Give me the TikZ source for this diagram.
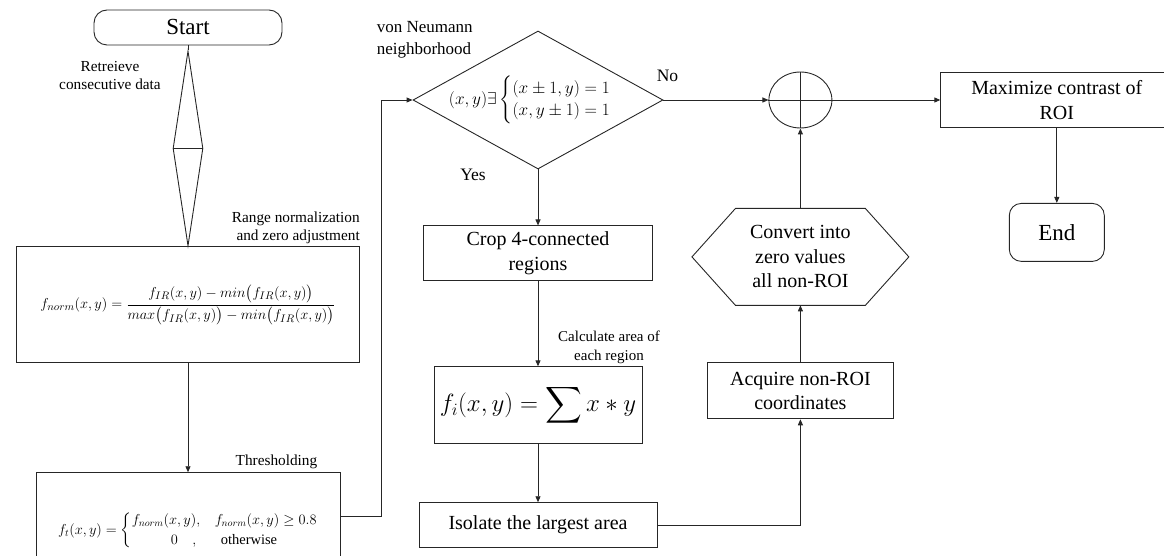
\documentclass[tikz,border=0pt]{standalone}
\usepackage{amsmath,amssymb}
\usepackage{fontspec}
\setmainfont{Liberation Serif}
\usetikzlibrary{arrows.meta,positioning,shapes.geometric,calc}

\begin{document}
\begin{tikzpicture}[
  x=1pt, y=1pt,
  wire/.style={draw=black!85, line width=0.9pt},
  arrow/.style={wire, -{Triangle[length=6pt,width=5pt]}},
  terminal/.style={wire, rounded corners=13pt, inner sep=0pt, font=\fontsize{23}{26}\selectfont},
  process/.style={wire, rectangle, inner sep=0pt, align=center, font=\fontsize{20}{24.5}\selectfont},
  choice/.style={wire, diamond, aspect=1.8, inner sep=-12pt, minimum width=250pt, minimum height=138pt, font=\fontsize{16}{19}\selectfont},
  note/.style={inner sep=0pt, align=center, font=\fontsize{15.3}{18}\selectfont},
]
  \useasboundingbox (0,0) rectangle (1164,-556);

  % Left column
  \node[terminal, minimum width=188pt, minimum height=35pt] (start) at (188,-27.5) {Start};
  \node[wire, diamond, inner sep=0pt, minimum width=30pt, minimum height=195pt, below=5pt of start] (sort) {};
  \draw[wire] (sort.west) -- (sort.east);
  \node[process, minimum width=343pt, minimum height=116pt, below=0pt of sort, font=\fontsize{15}{18}\selectfont] (fnorm)
    {$f_{norm}(x,y) = \dfrac{f_{IR}(x,y) - min\bigl(f_{IR}(x,y)\bigr)}{max\bigl(f_{IR}(x,y)\bigr) - min\bigl(f_{IR}(x,y)\bigr)}$};
  \node[process, minimum width=304pt, minimum height=116pt, below=109pt of fnorm, font=\fontsize{14.5}{17}\selectfont] (thresh)
    {$f_t(x,y) = \left\{\begin{array}{@{}r@{\quad}l@{}} f_{norm}(x,y), & f_{norm}(x,y) \geq 0.8\\[3pt] 0\quad ,\; & \hspace{6pt}\text{otherwise}\end{array}\right.$};

  % Middle column
  \node[choice] (nbhd) at (538,-100)
    {$(x,y)\exists\begin{cases}(x\pm 1,y) = 1\\(x,y\pm 1) = 1\end{cases}$};
  \node[process, minimum width=229pt, minimum height=55pt, below=56pt of nbhd] (crop) {Crop 4-connected\\regions};
  \node[process, minimum width=208pt, minimum height=77pt, below=85pt of crop, font=\fontsize{25.5}{28}\selectfont] (area)
    {$\displaystyle f_i(x,y) = \sum x * y$};
  \node[process, minimum width=238pt, minimum height=45pt, below=58pt of area] (isolate) {Isolate the largest area};

  % Right column
  \node[wire, ellipse, inner sep=0pt, minimum width=63pt, minimum height=56pt, right=105pt of nbhd] (plus) {};
  \draw[wire] (plus.north) -- (plus.south);
  \draw[wire] (plus.west) -- (plus.east);
  \node[process, draw=none, minimum width=216pt, minimum height=96pt, below=80pt of plus] (zero) {Convert into\\zero values\\all non-ROI};
  \draw[wire] ([xshift=43.5pt]zero.north west) -- ([xshift=-43.5pt]zero.north east) -- (zero.east)
    -- ([xshift=-43.5pt]zero.south east) -- ([xshift=43.5pt]zero.south west) -- (zero.west) -- cycle;
  \node[process, minimum width=186pt, minimum height=56pt, below=57pt of zero] (acquire) {Acquire non-ROI\\coordinates};
  \node[process, minimum width=232pt, minimum height=55pt, right=108pt of plus] (roi) {Maximize contrast of\\ROI};
  \node[terminal, rounded corners=12pt, minimum width=95pt, minimum height=58pt, below=75pt of roi] (stop) {End};

  % Labels
  \node[note] (fetch) at ([shift={(-78pt,-30pt)}]start.south) {Retreieve\\consecutive data};
  \node[note, align=right, anchor=south east] (range) at ([yshift=2pt]fnorm.north east) {Range normalization\\and zero adjustment};
  \node[note, anchor=south east] (thr) at ([shift={(-23pt,3pt)}]thresh.north east) {Thresholding};
  \node[note, align=left, anchor=south west, font=\fontsize{17}{22}\selectfont] (vonn) at ([shift={(-36pt,42pt)}]nbhd.west) {von Neumann\\neighborhood};
  \node[note, font=\fontsize{17.5}{20}\selectfont] (no) at ([shift={(4pt,24pt)}]nbhd.east) {No};
  \node[note, font=\fontsize{17.5}{20}\selectfont] (yes) at ([shift={(-65pt,-5pt)}]nbhd.south) {Yes};
  \node[note, anchor=south, font=\fontsize{15}{19}\selectfont] (calc) at ([shift={(71pt,2pt)}]area.north) {Calculate area of\\each region};

  % Connectors
  \draw[wire] (start) -- (sort);
  \draw[arrow] (fnorm) -- (thresh);
  \draw[arrow] ([yshift=14pt]thresh.east) -- ++(41pt,0) |- (nbhd.west);
  \draw[arrow] (nbhd) -- (crop);
  \draw[arrow] (crop) -- (area);
  \draw[arrow] (area) -- (isolate);
  \draw[arrow] (isolate.east) -| (acquire.south);
  \draw[arrow] (acquire) -- (zero);
  \draw[arrow] (zero) -- (plus);
  \draw[arrow] (nbhd) -- (plus);
  \draw[arrow] (plus) -- (roi);
  \draw[arrow] (roi) -- (stop);

\end{tikzpicture}
\end{document}
